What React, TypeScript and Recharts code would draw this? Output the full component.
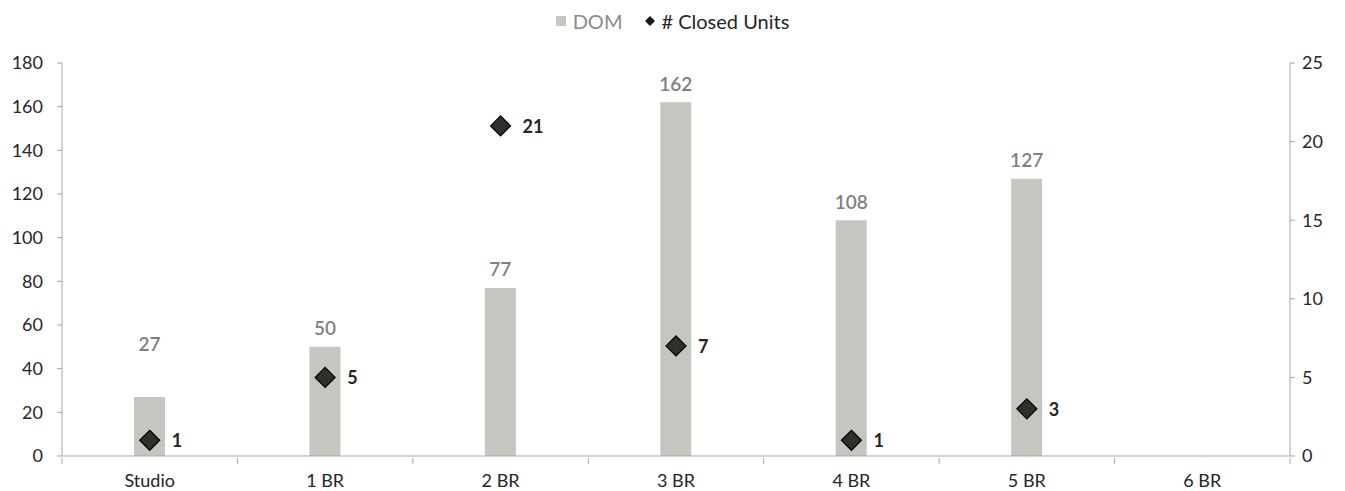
import {
  Bar,
  ComposedChart,
  LabelList,
  Line,
  XAxis,
  YAxis,
} from 'recharts';

const categories = ['Studio', '1 BR', '2 BR', '3 BR', '4 BR', '5 BR', '6 BR'];
const domValues: Array<number | null> = [27, 50, 77, 162, 108, 127, null];
const closedUnits: Array<number | null> = [1, 5, 21, 7, 1, 3, null];
const leftTicks = [0, 20, 40, 60, 80, 100, 120, 140, 160, 180];
const rightTicks = [0, 5, 10, 15, 20, 25];

const chartData = categories.map((name, i) => ({
  name,
  dom: domValues[i],
  units: closedUnits[i],
}));

const FONT = 'Lato, sans-serif';
const BAR_COLOR = '#c5c6c0';
const AXIS_COLOR = '#a6a6a6';
const TEXT_DARK = '#262626';
const TEXT_GRAY = '#808080';

const CHART_W = 1329;
const CHART_H = 483;
const LEFT_W = 54;
const RIGHT_W = 47;
const BAND = (CHART_W - LEFT_W - RIGHT_W) / categories.length;

function CategoryTick(props: { x?: number; y?: number; payload?: { value: string; index: number }; index?: number }) {
  const { x = 0, y = 0, payload, index = 0 } = props;
  const isLast = index === categories.length - 1;
  return (
    <g>
      <line stroke={AXIS_COLOR} x1={x - BAND / 2} x2={x - BAND / 2} y1={y} y2={y + 6} />
      {isLast && <line stroke={AXIS_COLOR} x1={x + BAND / 2} x2={x + BAND / 2} y1={y} y2={y + 6} />}
      <text
        dominantBaseline="central"
        fill={TEXT_DARK}
        fontFamily={FONT}
        fontSize={18}
        textAnchor="middle"
        x={x}
        y={y + 22}
      >
        {payload?.value}
      </text>
    </g>
  );
}

function Diamond(props: { cx?: number; cy?: number; value?: number | null }) {
  const { cx, cy, value } = props;
  if (cx == null || cy == null || value == null) return <g />;
  const r = 10;
  return (
    <polygon
      fill="#2f302b"
      points={`${cx},${cy - r} ${cx + r},${cy} ${cx},${cy + r} ${cx - r},${cy}`}
      stroke="#000"
      strokeWidth={1.2}
    />
  );
}

function BarValueLabel(props: { x?: number; y?: number; width?: number; value?: number; index?: number }) {
  const { x = 0, y = 0, width = 0, value, index } = props;
  if (value == null) return null;
  // the Studio label sits higher in the original
  const lift = index === 0 ? 54 : 19;
  return (
    <text
      dominantBaseline="central"
      fill={TEXT_GRAY}
      fontFamily={FONT}
      fontSize={19}
      fontWeight={600}
      textAnchor="middle"
      x={x + width / 2}
      y={y - lift}
    >
      {value}
    </text>
  );
}

function UnitsLabel(props: { x?: number; y?: number; value?: number | null }) {
  const { x = 0, y = 0, value } = props;
  if (value == null) return null;
  return (
    <text
      dominantBaseline="central"
      fill={TEXT_DARK}
      fontFamily={FONT}
      fontSize={18}
      fontWeight={700}
      x={x + 22}
      y={y}
    >
      {value}
    </text>
  );
}

export default function App() {
  return (
    <div style={{ position: 'relative', width: CHART_W, height: CHART_H, fontFamily: FONT }}>
      <div
        style={{
          position: 'absolute',
          top: 0,
          left: 0,
          width: CHART_W,
          height: 26,
          display: 'flex',
          justifyContent: 'center',
          alignItems: 'center',
          fontSize: 20,
        }}
      >
        <span style={{ width: 10, height: 10, background: BAR_COLOR, display: 'inline-block', marginRight: 7 }} />
        <span style={{ color: '#8c8c8c' }}>DOM</span>
        <svg height={12} style={{ marginLeft: 22, marginRight: 5 }} width={12}>
          <polygon fill="#1a1a1a" points="6,1 11,6 6,11 1,6" />
        </svg>
        <span style={{ color: TEXT_DARK }}># Closed Units</span>
      </div>
      <ComposedChart
        data={chartData}
        height={CHART_H}
        margin={{ top: 55, right: 0, bottom: 0, left: 0 }}
        width={CHART_W}
      >
        <XAxis
          axisLine={{ stroke: AXIS_COLOR }}
          dataKey="name"
          height={35}
          interval={0}
          tick={<CategoryTick />}
          tickLine={false}
          tickSize={0}
        />
        <YAxis
          axisLine={{ stroke: AXIS_COLOR }}
          domain={[0, 180]}
          tick={{ fill: TEXT_DARK, fontSize: 18, fontFamily: FONT }}
          tickLine={{ stroke: AXIS_COLOR }}
          tickMargin={14}
          tickSize={5}
          ticks={leftTicks}
          width={LEFT_W}
          yAxisId="left"
        />
        <YAxis
          axisLine={{ stroke: AXIS_COLOR }}
          domain={[0, 25]}
          orientation="right"
          tick={{ fill: TEXT_DARK, fontSize: 18, fontFamily: FONT, textAnchor: 'start' }}
          tickLine={{ stroke: AXIS_COLOR }}
          tickMargin={7}
          tickSize={5}
          ticks={rightTicks}
          width={RIGHT_W}
          yAxisId="right"
        />
        <Bar barSize={31} dataKey="dom" fill={BAR_COLOR} isAnimationActive={false} yAxisId="left">
          <LabelList content={<BarValueLabel />} dataKey="dom" />
        </Bar>
        <Line
          activeDot={false}
          dataKey="units"
          dot={<Diamond />}
          isAnimationActive={false}
          stroke="none"
          yAxisId="right"
        >
          <LabelList content={<UnitsLabel />} dataKey="units" />
        </Line>
      </ComposedChart>
    </div>
  );
}
